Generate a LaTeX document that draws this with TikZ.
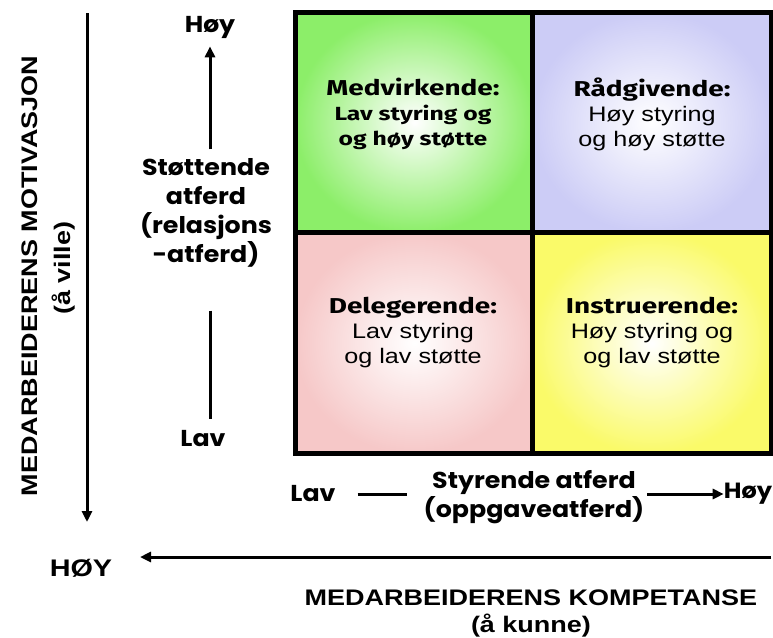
\documentclass[tikz,border=0pt]{standalone}
\usepackage{fontspec}
\usetikzlibrary{arrows.meta}
\setmainfont[FakeStretch=1.2]{Liberation Sans}
\newfontfamily\gothic[FakeStretch=1.1]{Poppins}
\newfontfamily\comic[FakeStretch=1.3]{Fira Sans}
\definecolor{qgreen}{RGB}{140,238,105}
\definecolor{qblue}{RGB}{204,204,246}
\definecolor{qpink}{RGB}{246,200,200}
\definecolor{qyellow}{RGB}{250,250,105}
\tikzset{
  quad/.style={draw=black, line width=5pt, minimum width=239pt, minimum height=221pt, inner sep=0pt},
  qtext/.style={align=center, font=\fontsize{21}{25}\selectfont, inner sep=0pt},
  gtext/.style={align=center, font=\gothic\bfseries\fontsize{23}{29}\selectfont, inner sep=0pt},
  btext/.style={align=center, font=\bfseries\fontsize{22.5}{27}\selectfont, inner sep=0pt},
  arr/.style={line width=3pt, -{Triangle[length=11pt,width=10pt]}},
  plain/.style={line width=3pt}
}
\newcommand{\qt}[1]{{\comic\bfseries\fontsize{21.5}{25}\selectfont #1}}
\newcommand{\qs}[1]{{\comic\bfseries\fontsize{19}{25}\selectfont #1}}
\begin{document}
\begin{tikzpicture}[x=1pt,y=-1pt]
\useasboundingbox (0,0) rectangle (773,637);
\fill[white] (0,0) rectangle (773,637);
% quadrants
\node[quad, inner color=white, outer color=qgreen] (q1) at (414.5,122.5) {};
\node[quad, inner color=white, outer color=qblue] (q2) at (651.5,122.5) {};
\node[quad, inner color=white, outer color=qpink] (q3) at (414.5,343) {};
\node[quad, inner color=white, outer color=qyellow] (q4) at (651.5,343) {};
% quadrant texts
\node[qtext] (t1) at (413,114) {\qt{Medvirkende:}\\\qs{Lav styring og}\\\qs{og høy støtte}};
\node[qtext] (t2) at (652,114) {\qt{Rådgivende:}\\Høy styring\\og høy støtte};
\node[qtext] (t3) at (413,333) {\qt{Delegerende:}\\Lav styring\\og lav støtte};
\node[qtext] (t4) at (652,333) {\qt{Instruerende:}\\Høy styring og\\og lav støtte};
% left vertical labels
\node[gtext] (hoyL) at (210,27) {Høy};
\node[gtext] (stot) at (206,213) {Støttende\\atferd\\(relasjons\\-atferd)};
\node[gtext] (lavL) at (203,439) {Lav};
\draw[arr, shorten <=9pt, shorten >=8pt] (stot.north -| hoyL.south) -- (hoyL.south);
\draw[plain, shorten <=43pt, shorten >=12pt] (stot.south -| hoyL.south) -- (lavL.north -| hoyL.south);
% bottom horizontal labels
\node[gtext] (lavB) at (313,494) {Lav};
\node[gtext] (styr) at (534,497) {Styrende atferd\\(oppgaveatferd)};
\node[gtext, font=\gothic\bfseries\fontsize{22}{29}\selectfont] (hoyB) at (748,494) {Høy};
\draw[plain, shorten <=22pt, shorten >=17pt] (lavB.east) -- (lavB.east -| styr.west);
\draw[arr, shorten <=3pt] (hoyB.west -| styr.east) -- (hoyB.west);
% big axes
\coordinate (vtop) at (87,13);
\coordinate (vbot) at (87,522);
\draw[arr] (vtop) -- (vbot);
\node[btext, rotate=90] (motiv) at (30,276) {MEDARBEIDERENS MOTIVASJON};
\node[btext, rotate=90] (ville) at (64,268) {(å ville)};
\coordinate (hright) at (771,557);
\coordinate (hleft) at (140,557);
\draw[arr] (hright) -- (hleft);
\node[btext, font=\bfseries\fontsize{24}{27}\selectfont] (hoyBig) at (81,568) {HØY};
\node[btext] (komp) at (531,613) {MEDARBEIDERENS KOMPETANSE\\(å kunne)};
\end{tikzpicture}
\end{document}
